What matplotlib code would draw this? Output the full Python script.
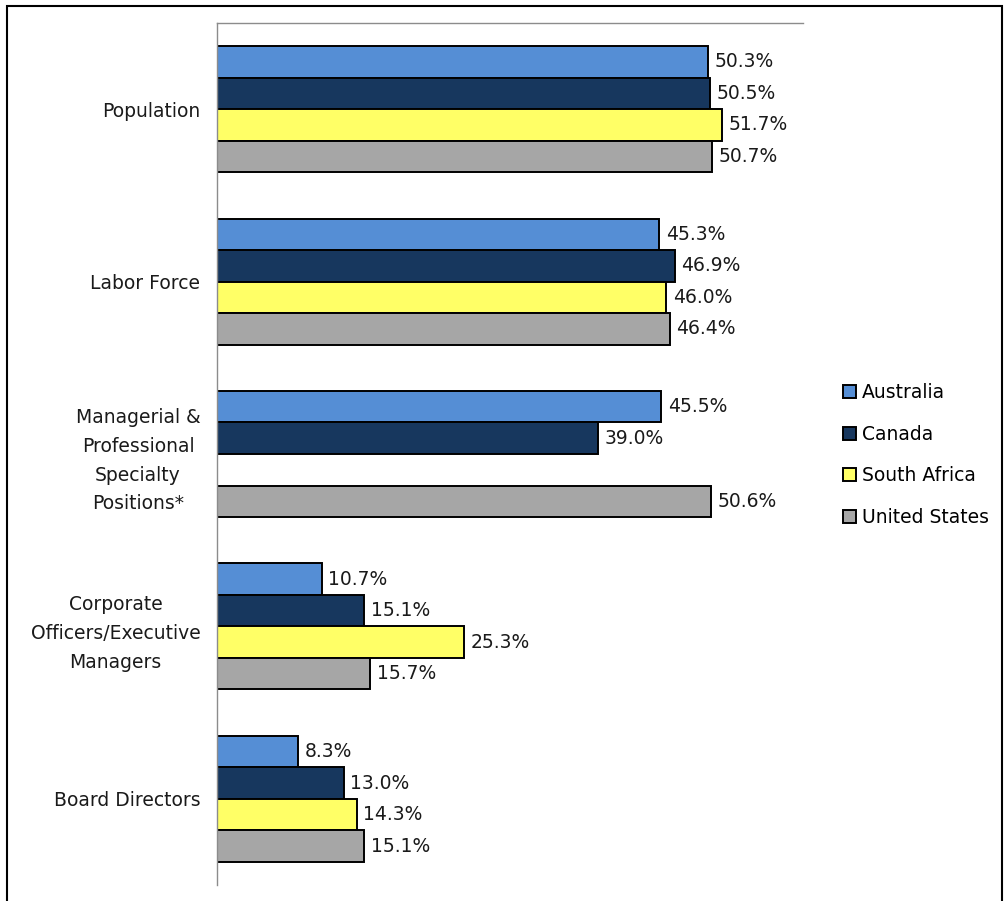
import numpy as np
import matplotlib
matplotlib.use('Agg')
import matplotlib.pyplot as plt
from matplotlib.patches import Rectangle

categories = ['Population', 'Labor Force', 'Managerial &\nProfessional\nSpecialty\nPositions*',
              'Corporate\nOfficers/Executive\nManagers', 'Board Directors']
countries = ['Australia', 'Canada', 'South Africa', 'United States']
australia = [50.3, 45.3, 45.5, 10.7, 8.3]
canada = [50.5, 46.9, 39.0, 15.1, 13.0]
south_africa = [51.7, 46.0, np.nan, 25.3, 14.3]
united_states = [50.7, 46.4, 50.6, 15.7, 15.1]
colours = ['#558ED5', '#17375E', '#FFFF66', '#A6A6A6']

plt.rcParams['font.family'] = ['DejaVu Sans']
fs = 13.5

fig = plt.figure(figsize=(10.05, 9.01), dpi=100)
ax = fig.add_axes([217 / 1005, 1 - 885 / 901, (803 - 217) / 1005, (885 - 23) / 901])

series = [australia, canada, south_africa, united_states]
n = len(series)
bh = 0.183
y = np.arange(len(categories))
for ii in range(n):
    offs = (ii - (n - 1) / 2) * bh
    vals = np.array(series[ii], dtype=float)
    ax.barh(y + offs, np.nan_to_num(vals), height=bh, color=colours[ii], edgecolor='black',
            linewidth=1.4, label=countries[ii])
    for jj, v in enumerate(vals):
        if np.isnan(v):
            continue
        ax.text(v + 0.65, y[jj] + offs, f'{v:.1f}%', va='center', ha='left', fontsize=fs,
                color='#1a1a1a')

ax.set_xlim(0, 60)
ax.set_ylim(len(categories) - 0.5, -0.5)
ax.set_yticks(y)
ax.set_yticklabels(categories, fontsize=fs, multialignment='center', linespacing=1.65)
ax.tick_params(axis='y', length=0, pad=12, labelcolor='#1a1a1a')
ax.set_xticks([])
for s in ['right', 'bottom']:
    ax.spines[s].set_visible(False)
for s in ['left', 'top']:
    ax.spines[s].set_color('#8c8c8c')
    ax.spines[s].set_linewidth(1.0)

fig.legend(loc='center left', bbox_to_anchor=(826 / 1005, 1 - 455 / 901), frameon=False,
           fontsize=fs, handlelength=0.7, handleheight=0.7, handletextpad=0.3, labelspacing=1.2)

fig.patches.append(Rectangle((7 / 1005, -0.1), (1002 - 7) / 1005, 1.1 - 6 / 901,
                             transform=fig.transFigure, fill=False, edgecolor='black', linewidth=1.5))

fig.savefig('out.png', dpi=100)
